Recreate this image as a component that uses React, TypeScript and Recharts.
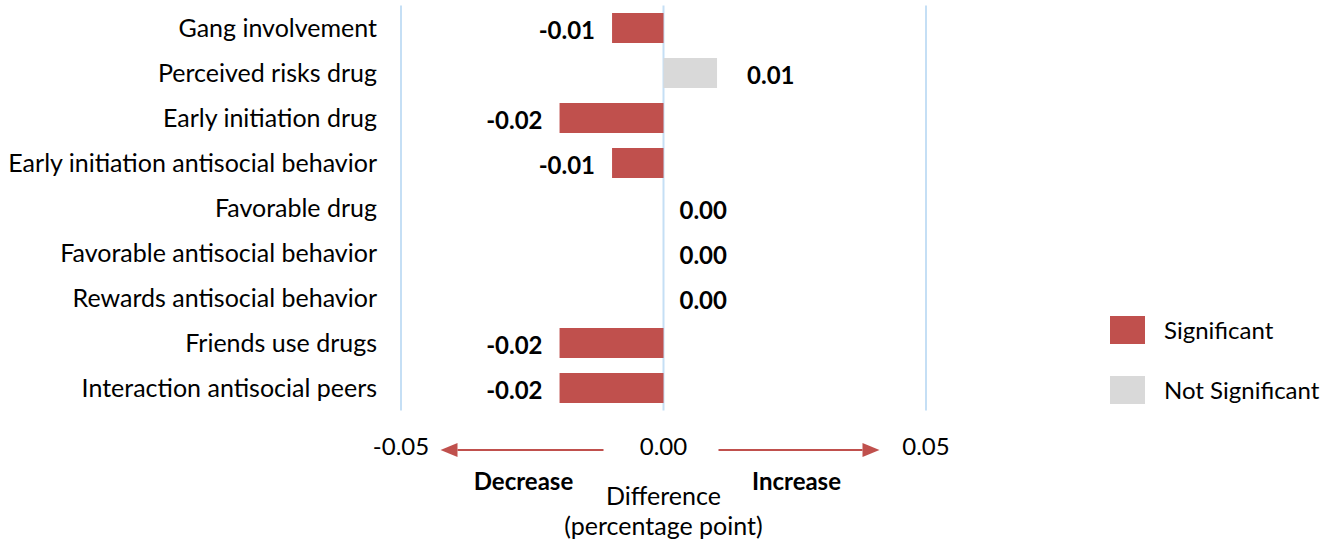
import React from 'react';
import { BarChart, Bar, XAxis, YAxis, CartesianGrid, Cell, LabelList } from 'recharts';

const categories = [
  'Gang involvement',
  'Perceived risks drug',
  'Early initiation drug',
  'Early initiation antisocial behavior',
  'Favorable drug',
  'Favorable antisocial behavior',
  'Rewards antisocial behavior',
  'Friends use drugs',
  'Interaction antisocial peers',
];
const differences = [-0.0098, 0.0102, -0.0198, -0.0098, 0, 0, 0, -0.0198, -0.0198];
const significant = [true, false, true, true, false, false, false, true, true];
const xTicks = [-0.05, 0, 0.05];
const legendLabels = ['Significant', 'Not Significant'];

const FONT = 'Lato, Carlito, Calibri, sans-serif';
const RED = '#C0504D';
const GRAY = '#D9D9D9';

const data = categories.map((name, i) => ({ name, diff: differences[i], sig: significant[i] }));

function ValueLabel(props: any) {
  const { x, y, width, height, value } = props;
  const left = Math.min(x, x + width);
  const right = Math.max(x, x + width);
  const cy = y + height / 2 + 1;
  const txt = Number(value).toFixed(2);
  if (value < 0) {
    return (
      <text x={left - 17} y={cy} textAnchor="end" dominantBaseline="central"
        fontFamily={FONT} fontSize={24} fontWeight={700} fill="#000">{txt}</text>
    );
  }
  return (
    <text x={right + (value > 0 ? 30 : 16)} y={cy} textAnchor="start" dominantBaseline="central"
      fontFamily={FONT} fontSize={24} fontWeight={700} fill="#000">{txt}</text>
  );
}

function AxisTick(props: any) {
  const { x, y, payload } = props;
  return (
    <text x={x} y={y + 35} textAnchor="middle" dominantBaseline="central"
      fontFamily={FONT} fontSize={24} fill="#000">{Number(payload.value).toFixed(2)}</text>
  );
}

function AxisNotes(props: any) {
  const vb = props.viewBox || { x: 401, y: 410.5, width: 525 };
  const cx = vb.x + vb.width / 2;
  const ay = vb.y + 39.5;
  return (
    <g>
      <line x1={cx - 60} y1={ay} x2={cx - 206} y2={ay} stroke={RED} strokeWidth={2} />
      <polygon points={`${cx - 223},${ay} ${cx - 206},${ay - 7} ${cx - 206},${ay + 7}`} fill={RED} />
      <line x1={cx + 55} y1={ay} x2={cx + 199} y2={ay} stroke={RED} strokeWidth={2} />
      <polygon points={`${cx + 216},${ay} ${cx + 199},${ay - 7} ${cx + 199},${ay + 7}`} fill={RED} />
      <text x={cx - 140} y={vb.y + 70} textAnchor="middle" dominantBaseline="central"
        fontFamily={FONT} fontSize={24} fontWeight={700} fill="#000">Decrease</text>
      <text x={cx + 133} y={vb.y + 70} textAnchor="middle" dominantBaseline="central"
        fontFamily={FONT} fontSize={24} fontWeight={700} fill="#000">Increase</text>
      <text x={cx} y={vb.y + 84} textAnchor="middle" dominantBaseline="central"
        fontFamily={FONT} fontSize={25} fill="#000">Difference</text>
      <text x={cx} y={vb.y + 114} textAnchor="middle" dominantBaseline="central"
        fontFamily={FONT} fontSize={25} fill="#000">(percentage point)</text>
    </g>
  );
}

function LegendBox() {
  const colors = [RED, GRAY];
  return (
    <div style={{ position: 'absolute', left: 1110, top: 316, fontFamily: FONT, fontSize: 24, lineHeight: '28px' }}>
      {legendLabels.map((label, i) => (
        <div key={label} style={{ display: 'flex', alignItems: 'center', height: 28, marginBottom: i === 0 ? 32 : 0 }}>
          <span style={{ display: 'inline-block', width: 35, height: 28, background: colors[i], marginRight: 19 }} />
          <span style={{ whiteSpace: 'nowrap' }}>{label}</span>
        </div>
      ))}
    </div>
  );
}

export default function App() {
  return (
    <div style={{ position: 'absolute', left: 0, top: 0, width: 1338, height: 541, background: '#fff' }}>
      <BarChart
        width={1338}
        height={541}
        data={data}
        layout="vertical"
        margin={{ top: 5.5, right: 412, bottom: 0, left: 0 }}
        barCategoryGap="16.7%"
      >
        <CartesianGrid horizontal={false} vertical stroke="#C5DFF5" strokeWidth={2} />
        <XAxis
          type="number"
          domain={[-0.05, 0.05]}
          ticks={xTicks}
          height={130.5}
          axisLine={false}
          tickLine={false}
          tickSize={0}
          tickMargin={0}
          tick={<AxisTick />}
          label={<AxisNotes />}
        />
        <YAxis
          type="category"
          dataKey="name"
          width={401}
          axisLine={false}
          tickLine={false}
          tickSize={0}
          tickMargin={24}
          interval={0}
          tick={{ fontFamily: FONT, fontSize: 25, fill: '#000' }}
        />
        <Bar dataKey="diff" isAnimationActive={false} minPointSize={(v: number) => (v === 0 ? 0.01 : 0)}>
          {data.map((d, i) => (
            <Cell key={`c-${i}`} fill={d.sig ? RED : GRAY} />
          ))}
          <LabelList dataKey="diff" content={<ValueLabel />} />
        </Bar>
      </BarChart>
      <LegendBox />
    </div>
  );
}
